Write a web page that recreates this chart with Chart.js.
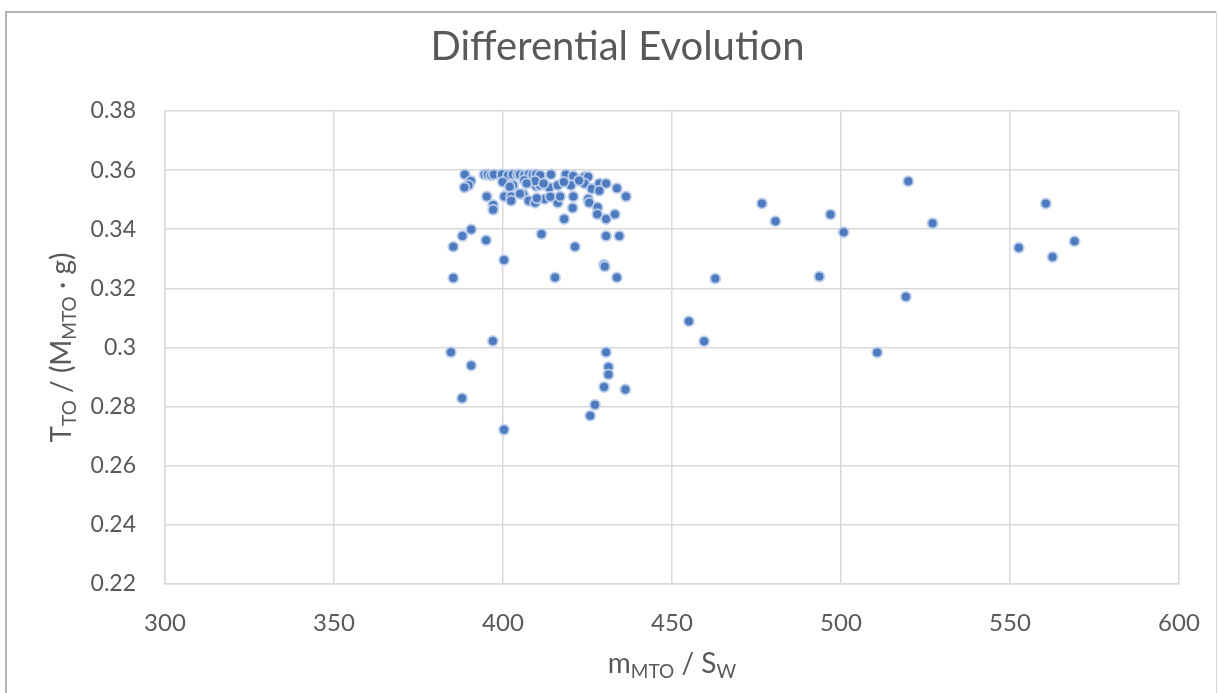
<!DOCTYPE html>
<html>
<head>
<meta charset="utf-8">
<script src="https://cdn.jsdelivr.net/npm/chart.js"></script>
<style>
  html, body { margin: 0; padding: 0; background: #ffffff; }
  #wrap { position: relative; width: 1218px; height: 693px; }
  canvas { display: block; }
</style>
</head>
<body>
<div id="wrap"><canvas id="c" width="1218" height="693"></canvas></div>
<script>
// ---- data ----
const chartTitle = "Differential Evolution";
const xTicks = [300, 350, 400, 450, 500, 550, 600];
const yTicks = [0.22, 0.24, 0.26, 0.28, 0.30, 0.32, 0.34, 0.36, 0.38];
const yTickLabels = ["0.22", "0.24", "0.26", "0.28", "0.3", "0.32", "0.34", "0.36", "0.38"];

const xValues = [
  // top row ~0.3585
  388.7, 394.5, 395.5, 396.5, 397.3, 399.7, 401.5, 402.9, 404.3, 405.0, 406.3, 407.6, 408.8, 409.8, 411.0, 414.2, 418.6, 420.8, 424.1, 425.2,
  // second row ~0.355
  390.5, 389.8, 388.6, 399.9, 403.0, 406.3, 409.8, 410.9, 413.7, 416.2, 420.1, 424.1, 426.3, 428.5, 430.5, 428.5, 433.7, 436.4, 409.5, 402.0, 407.0, 412.0, 418.0, 422.5,
  // third row ~0.350
  395.2, 400.4, 402.4, 402.4, 406.0, 407.6, 409.5, 412.3, 416.2, 416.9, 420.8, 425.2, 425.5, 428.0, 427.9, 430.5, 433.1, 397.1, 397.1, 420.6, 418.1, 410.0, 414.0, 405.0,
  // lower cluster points
  390.6, 388.0, 385.3, 395.0, 411.4, 421.3, 430.5, 434.4, 400.3, 429.9, 430.1, 385.3, 415.4, 433.7,
  397.0, 384.6, 390.6, 387.9, 400.3, 430.5, 431.2, 431.2, 429.9, 436.2, 427.2, 425.8,
  // right side points
  519.9, 476.6, 480.6, 496.9, 500.8, 527.1, 560.6, 552.6, 569.1, 562.6, 462.8, 493.6, 519.2, 455.0, 459.5, 510.7
];
const yValues = [
  0.3585, 0.3585, 0.3585, 0.3583, 0.3585, 0.3585, 0.3583, 0.3585, 0.3585, 0.3585, 0.3583, 0.3585, 0.3585, 0.3585, 0.3583, 0.3585, 0.3585, 0.3580, 0.3578, 0.3578,
  0.3563, 0.3549, 0.3541, 0.3560, 0.3549, 0.3566, 0.3546, 0.3549, 0.3541, 0.3549, 0.3549, 0.3555, 0.3537, 0.3555, 0.3555, 0.3530, 0.3539, 0.3511, 0.3563, 0.3544, 0.3555, 0.3555, 0.3560, 0.3565,
  0.3511, 0.3511, 0.3511, 0.3496, 0.3518, 0.3496, 0.3490, 0.3502, 0.3490, 0.3511, 0.3511, 0.3502, 0.3490, 0.3474, 0.3451, 0.3435, 0.3451, 0.3482, 0.3466, 0.3472, 0.3435, 0.3505, 0.3510, 0.3520,
  0.3399, 0.3377, 0.3341, 0.3363, 0.3384, 0.3341, 0.3377, 0.3377, 0.3296, 0.3280, 0.3274, 0.3235, 0.3237, 0.3237,
  0.3022, 0.2984, 0.2939, 0.2828, 0.2722, 0.2984, 0.2934, 0.2909, 0.2866, 0.2858, 0.2806, 0.2769,
  0.3562, 0.3487, 0.3427, 0.3450, 0.3390, 0.3420, 0.3487, 0.3337, 0.3359, 0.3306, 0.3233, 0.3240, 0.3172, 0.3089, 0.3021, 0.2983
];

const xTitleParts = [["m", false], ["MTO", true], [" / S", false], ["W", true]];
const yTitleParts = [["T", false], ["TO", true], [" / (M", false], ["MTO", true], [" \u00B7 g)", false]];

const points = xValues.map((x, i) => ({ x: x, y: yValues[i] }));

const FONT = "Lato, 'Open Sans', 'DejaVu Sans', sans-serif";
const TEXT = "#595959";
const GRID = "#d9d9d9";

function drawParts(ctx, parts, size, subSize, subDrop) {
  let total = 0;
  parts.forEach(p => {
    ctx.font = (p[1] ? subSize : size) + "px " + FONT;
    total += ctx.measureText(p[0]).width;
  });
  let x = -total / 2;
  parts.forEach(p => {
    ctx.font = (p[1] ? subSize : size) + "px " + FONT;
    ctx.fillText(p[0], x, p[1] ? subDrop : 0);
    x += ctx.measureText(p[0]).width;
  });
}

const decor = {
  id: "decor",
  beforeDraw(chart) {
    const ctx = chart.ctx;
    ctx.save();
    ctx.fillStyle = "#ffffff";
    ctx.fillRect(0, 0, chart.width, chart.height);
    ctx.strokeStyle = "#b3b3b3";
    ctx.lineWidth = 2;
    ctx.beginPath();
    ctx.moveTo(6, 693);
    ctx.lineTo(6, 12);
    ctx.lineTo(1216, 12);
    ctx.stroke();
    ctx.strokeStyle = "#d6d6d6";
    ctx.lineWidth = 1;
    ctx.beginPath();
    ctx.moveTo(1216.5, 12);
    ctx.lineTo(1216.5, 693);
    ctx.stroke();
    ctx.restore();
  },
  afterDraw(chart) {
    const ctx = chart.ctx;
    const ca = chart.chartArea;
    ctx.save();
    ctx.fillStyle = TEXT;
    ctx.textBaseline = "alphabetic";
    ctx.textAlign = "left";
    ctx.save();
    ctx.translate((ca.left + ca.right) / 2, 673);
    drawParts(ctx, xTitleParts, 28, 19, 5);
    ctx.restore();
    ctx.save();
    ctx.translate(71, (ca.top + ca.bottom) / 2);
    ctx.rotate(-Math.PI / 2);
    drawParts(ctx, yTitleParts, 28, 19, 5);
    ctx.restore();
    ctx.restore();
  }
};

new Chart(document.getElementById("c"), {
  type: "scatter",
  data: {
    datasets: [{
      data: points,
      backgroundColor: "#4e7bbf",
      borderColor: "rgba(188,206,235,0.9)",
      borderWidth: 2,
      pointRadius: 5,
      pointHoverRadius: 5
    }]
  },
  options: {
    responsive: false,
    animation: false,
    devicePixelRatio: 1,
    layout: { padding: { left: 56, right: 39, top: 0, bottom: 0 } },
    plugins: {
      legend: { display: false },
      tooltip: { enabled: false },
      title: {
        display: true,
        text: chartTitle,
        color: TEXT,
        font: { family: FONT, size: 40, weight: "normal", lineHeight: 1.2 },
        padding: { top: 23, bottom: 40 }
      }
    },
    scales: {
      x: {
        type: "linear",
        min: 300, max: 600,
        afterBuildTicks(scale) { scale.ticks = xTicks.map(v => ({ value: v })); },
        afterFit(scale) { scale.height = 109; scale.paddingLeft = 0; scale.paddingRight = 0; },
        grid: { color: GRID, lineWidth: 1.5, drawTicks: false },
        border: { color: GRID, width: 1.5 },
        ticks: {
          color: TEXT,
          font: { family: FONT, size: 24 },
          padding: 25,
          maxRotation: 0,
          callback: (v) => String(v)
        }
      },
      y: {
        type: "linear",
        min: 0.22, max: 0.38,
        afterBuildTicks(scale) { scale.ticks = yTicks.map(v => ({ value: v })); },
        afterFit(scale) { scale.width = 109; scale.paddingTop = 0; scale.paddingBottom = 0; },
        grid: { color: GRID, lineWidth: 1.5, drawTicks: false },
        border: { color: GRID, width: 1.5 },
        ticks: {
          color: TEXT,
          font: { family: FONT, size: 23 },
          padding: 29,
          callback: (v) => {
            const i = yTicks.findIndex(t => Math.abs(t - v) < 1e-9);
            return i >= 0 ? yTickLabels[i] : "";
          }
        }
      }
    }
  },
  plugins: [decor]
});
</script>
</body>
</html>
